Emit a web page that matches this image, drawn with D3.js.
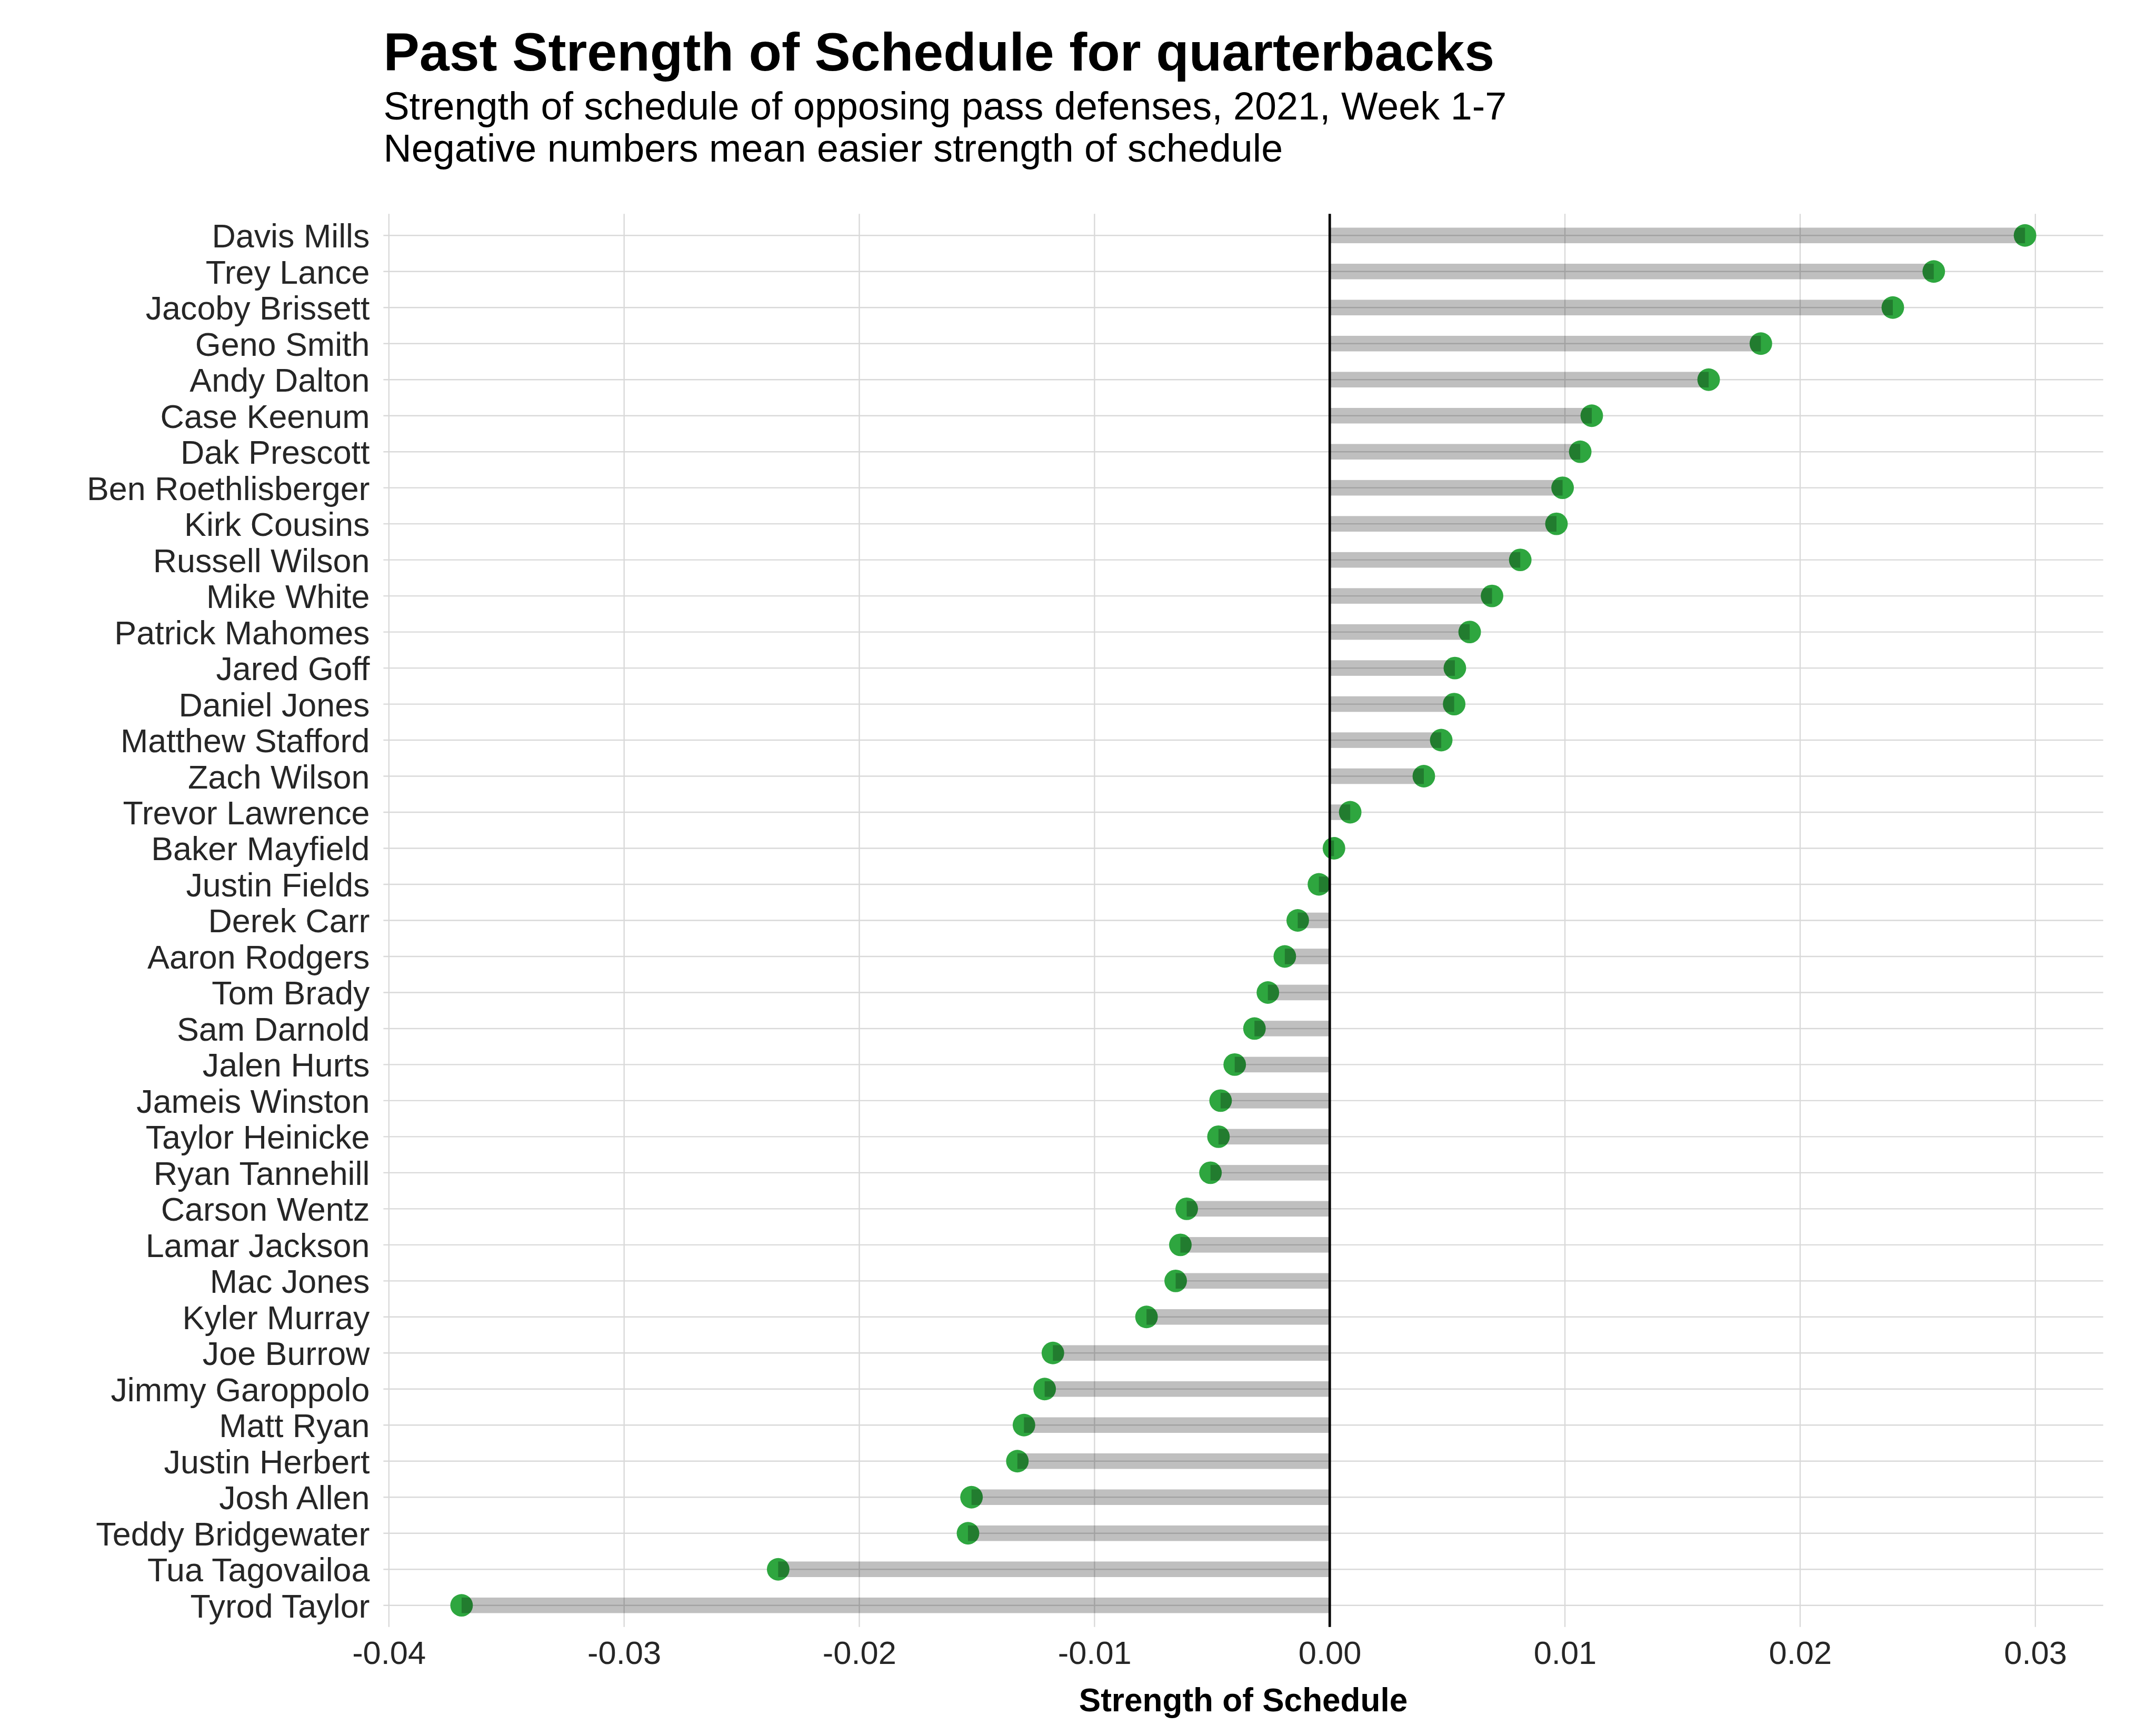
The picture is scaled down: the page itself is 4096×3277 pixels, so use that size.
<!DOCTYPE html>
<html>
<head>
<meta charset="utf-8">
<script src="https://cdn.jsdelivr.net/npm/d3@7"></script>
<style>
  html, body { margin: 0; padding: 0; background: #ffffff; }
  svg { display: block; }
</style>
</head>
<body>
<script>
// ---- data (top to bottom) ----
const players = [
  "Davis Mills", "Trey Lance", "Jacoby Brissett", "Geno Smith", "Andy Dalton",
  "Case Keenum", "Dak Prescott", "Ben Roethlisberger", "Kirk Cousins", "Russell Wilson",
  "Mike White", "Patrick Mahomes", "Jared Goff", "Daniel Jones", "Matthew Stafford",
  "Zach Wilson", "Trevor Lawrence", "Baker Mayfield", "Justin Fields", "Derek Carr",
  "Aaron Rodgers", "Tom Brady", "Sam Darnold", "Jalen Hurts", "Jameis Winston",
  "Taylor Heinicke", "Ryan Tannehill", "Carson Wentz", "Lamar Jackson", "Mac Jones",
  "Kyler Murray", "Joe Burrow", "Jimmy Garoppolo", "Matt Ryan", "Justin Herbert",
  "Josh Allen", "Teddy Bridgewater", "Tua Tagovailoa", "Tyrod Taylor"
];
const sos = [
  0.02956, 0.02568, 0.02394, 0.01833, 0.01611,
  0.01114, 0.01065, 0.00990, 0.00964, 0.00810,
  0.00690, 0.00595, 0.00532, 0.00529, 0.00474,
  0.00400, 0.00087, 0.00018, -0.00046, -0.00136,
  -0.00191, -0.00263, -0.00320, -0.00404, -0.00464,
  -0.00473, -0.00507, -0.00608, -0.00635, -0.00655,
  -0.00779, -0.01177, -0.01212, -0.01300, -0.01328,
  -0.01523, -0.01538, -0.02345, -0.03691
];
const xTicks = [-0.04, -0.03, -0.02, -0.01, 0.00, 0.01, 0.02, 0.03];
const titleText = "Past Strength of Schedule for quarterbacks";
const subtitleLines = [
  "Strength of schedule of opposing pass defenses, 2021, Week 1-7",
  "Negative numbers mean easier strength of schedule"
];
const xTitle = "Strength of Schedule";

// ---- layout (reference units, 6000 x 4800) ----
const W = 4096, H = 3277;
const S = W / 6000;
const panel = { left: 1067, right: 5853, top: 595, bottom: 4527.5 };
const FONT = "'Liberation Sans', Arial, Helvetica, sans-serif";

const svg = d3.select("body").append("svg")
  .attr("width", W).attr("height", H)
  .attr("viewBox", `0 0 ${W} ${H}`);
svg.append("rect").attr("width", W).attr("height", H).attr("fill", "#ffffff");
const root = svg.append("g").attr("transform", `scale(${S})`);

const data = players.map((p, i) => ({ name: p, v: sos[i] }));

// scales
const lo = Math.min(0, d3.min(sos)), hi = Math.max(0, d3.max(sos));
const pad = (hi - lo) * 0.05;
const x = d3.scaleLinear().domain([lo - pad, hi + pad]).range([panel.left, panel.right]);
const y = d3.scalePoint().domain(players).range([panel.top, panel.bottom]).padding(0.6);

// grid
const grid = root.append("g");
grid.selectAll("line.v").data(xTicks).join("line")
  .attr("x1", d => x(d)).attr("x2", d => x(d))
  .attr("y1", panel.top).attr("y2", panel.bottom)
  .attr("stroke", "#d9d9d9").attr("stroke-width", 3.5);
grid.selectAll("line.h").data(players).join("line")
  .attr("x1", panel.left).attr("x2", panel.right)
  .attr("y1", d => y(d)).attr("y2", d => y(d))
  .attr("stroke", "#d9d9d9").attr("stroke-width", 3.5);

// dots
root.append("g").selectAll("circle").data(data).join("circle")
  .attr("cx", d => x(d.v)).attr("cy", d => y(d.name))
  .attr("r", 31.4).attr("fill", "#2ea63f");

// bars (semi-transparent, over the dots)
const barH = 43.3;
root.append("g").selectAll("rect").data(data).join("rect")
  .attr("x", d => Math.min(x(0), x(d.v)))
  .attr("width", d => Math.abs(x(d.v) - x(0)))
  .attr("y", d => y(d.name) - barH / 2)
  .attr("height", barH)
  .attr("fill", "#000000").attr("fill-opacity", 0.25);

// zero line
root.append("line")
  .attr("x1", x(0)).attr("x2", x(0))
  .attr("y1", panel.top).attr("y2", panel.bottom)
  .attr("stroke", "#000000").attr("stroke-width", 6.9);

// y axis (names)
const yAxis = root.append("g")
  .attr("transform", `translate(${panel.left},0)`)
  .call(d3.axisLeft(y).tickSize(0).tickPadding(38));
yAxis.select(".domain").remove();
yAxis.selectAll("text")
  .attr("font-family", FONT).attr("font-size", 92)
  .attr("fill", "#262626").attr("dy", "0.36em");

// x axis
const xAxis = root.append("g")
  .attr("transform", `translate(0,${panel.bottom})`)
  .call(d3.axisBottom(x).tickValues(xTicks).tickSize(0).tickPadding(0)
    .tickFormat(d => d.toFixed(2)));
xAxis.select(".domain").remove();
xAxis.selectAll("text")
  .attr("font-family", FONT).attr("font-size", 90)
  .attr("fill", "#262626")
  .attr("y", 4631 - panel.bottom).attr("dy", 0);

// axis title
root.append("text")
  .attr("x", (panel.left + panel.right) / 2).attr("y", 4762)
  .attr("text-anchor", "middle")
  .attr("font-family", FONT).attr("font-size", 91).attr("font-weight", "bold")
  .attr("fill", "#000000").text(xTitle);

// title + subtitle
root.append("text")
  .attr("x", panel.left).attr("y", 196)
  .attr("font-family", FONT).attr("font-size", 150).attr("font-weight", "bold")
  .attr("fill", "#000000").text(titleText);
root.append("g").selectAll("text").data(subtitleLines).join("text")
  .attr("x", panel.left).attr("y", (d, i) => 333 + i * 117)
  .attr("font-family", FONT).attr("font-size", 108)
  .attr("fill", "#000000").text(d => d);
</script>
</body>
</html>
